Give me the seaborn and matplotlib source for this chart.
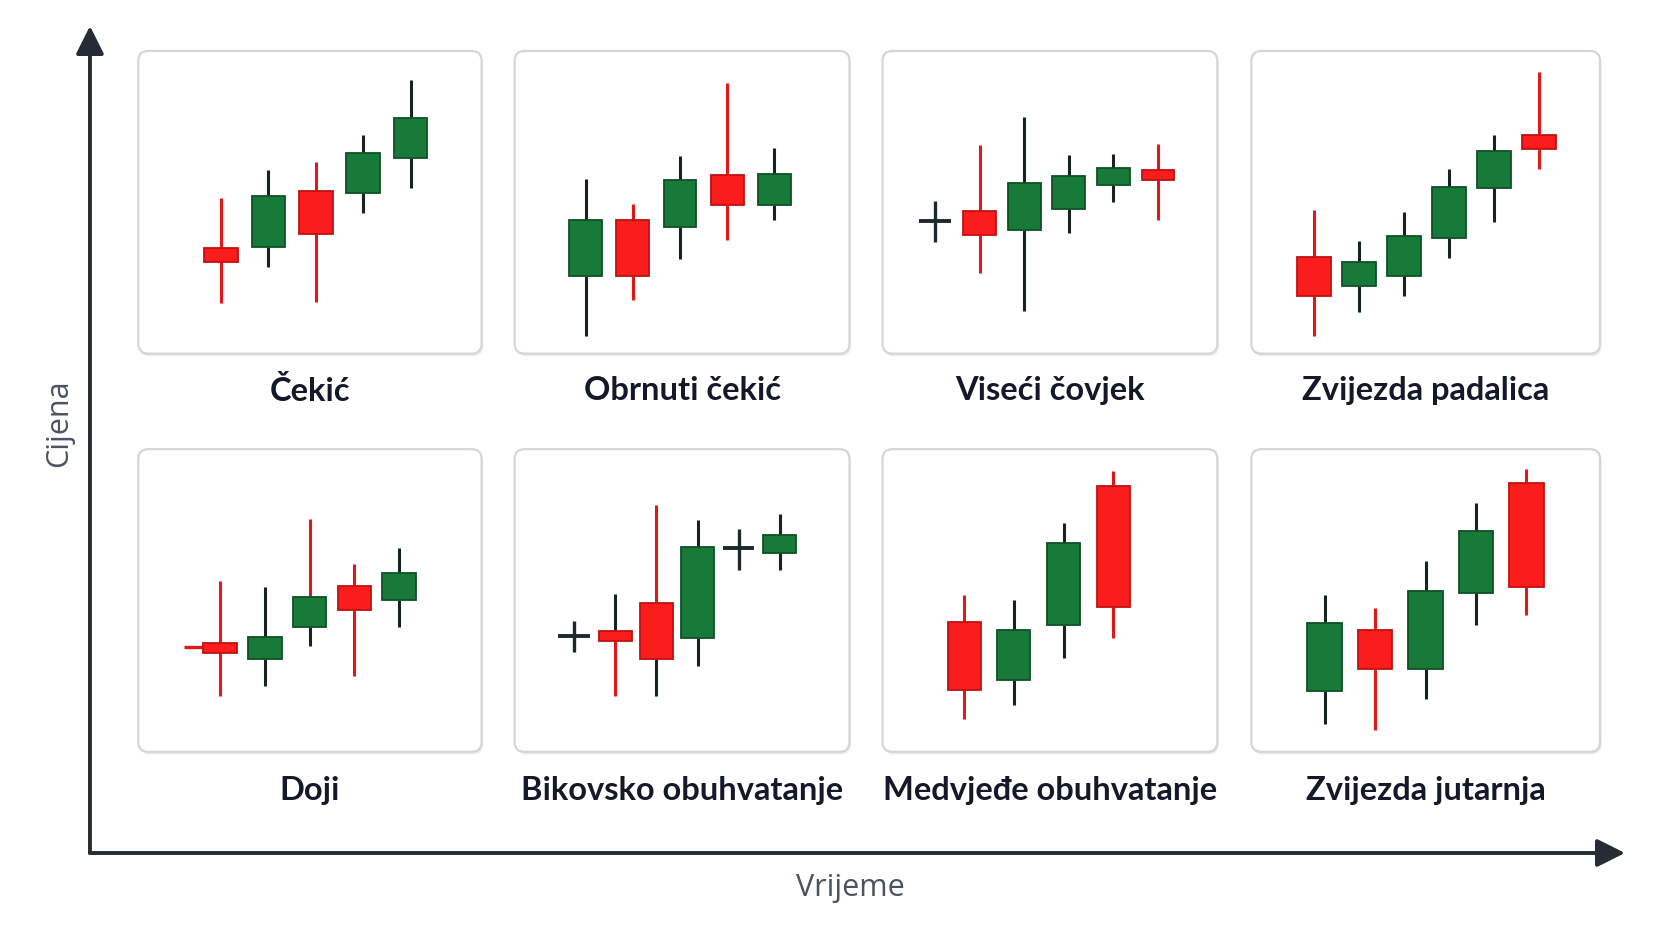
import numpy as np
import pandas as pd
import matplotlib
matplotlib.use("Agg")
import matplotlib.pyplot as plt
import seaborn as sns
from matplotlib.patches import FancyBboxPatch, FancyArrowPatch

# ---------------- data ----------------
titles = ["Čekić", "Obrnuti čekić", "Viseći čovjek", "Zvijezda padalica",
          "Doji", "Bikovsko obuhvatanje", "Medvjeđe obuhvatanje", "Zvijezda jutarnja"]

p1_open  = [35.0, 35.1, 53.8, 53.0, 64.6]
p1_high  = [51.4, 60.8, 63.3, 72.2, 90.4]
p1_low   = [16.8, 28.7, 16.9, 46.3, 54.7]
p1_close = [30.2, 52.2, 39.6, 66.3, 78.0]

p2_open  = [25.5, 44.0, 42.0, 59.1, 49.2]
p2_high  = [57.6, 49.6, 65.2, 89.3, 68.0]
p2_low   = [5.9, 17.7, 31.4, 37.6, 44.0]
p2_close = [44.0, 25.5, 57.3, 49.0, 59.4]

p3_open  = [43.9, 47.0, 41.0, 47.7, 55.8, 60.8]
p3_high  = [50.3, 68.9, 78.2, 65.5, 66.0, 69.1]
p3_low   = [37.0, 26.7, 14.0, 40.0, 50.1, 44.0]
p3_close = [43.9, 39.3, 56.4, 58.6, 61.3, 57.3]

p4_open  = [31.9, 22.4, 25.7, 38.2, 54.6, 72.4]
p4_high  = [47.3, 37.3, 46.9, 60.9, 72.2, 93.1]
p4_low   = [5.9, 13.6, 19.0, 31.7, 43.6, 61.1]
p4_close = [19.0, 30.3, 38.7, 55.2, 67.1, 67.6]

p5_open  = [36.1, 30.6, 41.2, 54.8, 50.1]
p5_high  = [56.5, 54.6, 76.8, 62.0, 67.2]
p5_low   = [18.6, 21.9, 34.9, 24.9, 41.3]
p5_close = [32.6, 38.0, 51.3, 46.9, 59.2]
p5_lead_price = 34.5

p6_open  = [38.3, 39.9, 49.3, 37.7, 67.4, 65.7]
p6_high  = [43.3, 52.3, 81.6, 76.5, 73.7, 78.7]
p6_low   = [32.9, 18.3, 18.6, 28.3, 60.0, 60.1]
p6_close = [38.3, 36.7, 30.7, 67.8, 67.4, 71.5]

p7_open  = [43.0, 23.7, 42.0, 87.7]
p7_high  = [51.8, 50.2, 75.7, 92.9]
p7_low   = [10.7, 15.4, 31.1, 37.7]
p7_close = [20.3, 40.4, 68.9, 48.0]

p8_open  = [20.0, 40.2, 27.2, 52.6, 88.8]
p8_high  = [51.8, 47.5, 62.9, 82.2, 93.4]
p8_low   = [9.3, 7.1, 17.3, 42.0, 45.2]
p8_close = [42.7, 27.2, 53.1, 72.9, 54.5]

panels = [
    (p1_open, p1_high, p1_low, p1_close),
    (p2_open, p2_high, p2_low, p2_close),
    (p3_open, p3_high, p3_low, p3_close),
    (p4_open, p4_high, p4_low, p4_close),
    (p5_open, p5_high, p5_low, p5_close),
    (p6_open, p6_high, p6_low, p6_close),
    (p7_open, p7_high, p7_low, p7_close),
    (p8_open, p8_high, p8_low, p8_close),
]

# ---------------- style ----------------
GREEN_FILL = "#177a38"
GREEN_EDGE = "#0d5226"
RED_FILL = "#fb1c1c"
RED_EDGE = "#c01010"
DARK_WICK = "#16241c"
RED_WICK = "#e3161a"
CROSS = "#1d2a2c"
AXIS_C = "#262c35"
TITLE_C = "#141929"
LABEL_C = "#4a5360"

# wick colour exceptions: (panel, candle, part)
wick_overrides = {(4, 2, "up"): RED_WICK, (5, 1, "up"): DARK_WICK, (5, 2, "down"): DARK_WICK}

# layout (figure fractions)
col_left = [0.0830, 0.3089, 0.5297, 0.7511]
col_width = [0.2061, 0.2010, 0.2010, 0.2093]
row_bottom = [0.6254, 0.2036]
row_height = 0.3206
title_y = [0.5860, 0.1631]
# first/last candle centre as fraction of panel width
x_span = [(0.241, 0.793), (0.212, 0.776), (0.157, 0.823), (0.179, 0.826),
          (0.238, 0.760), (0.178, 0.792), (0.244, 0.689), (0.210, 0.789)]
BODY_FRAC = 0.098

sns.set_theme(style="white")
plt.rcParams["font.family"] = ["Lato", "DejaVu Sans"]

W, H = 1666, 944
fig = plt.figure(figsize=(W / 100, H / 100), dpi=100)
fig.patch.set_facecolor("white")

for k, (o_, h_, l_, c_) in enumerate(panels):
    r, cidx = divmod(k, 4)
    left, bottom, width, height = col_left[cidx], row_bottom[r], col_width[cidx], row_height

    px = 1.0 / W
    py = 1.0 / H
    shadow = FancyBboxPatch((left + 1.5 * px, bottom - 2.5 * py), width, height,
                            boxstyle="round,pad=0,rounding_size=0.006",
                            transform=fig.transFigure, facecolor="#ececec",
                            edgecolor="none", zorder=-6, mutation_aspect=W / H)
    box = FancyBboxPatch((left, bottom), width, height,
                         boxstyle="round,pad=0,rounding_size=0.006",
                         transform=fig.transFigure, facecolor="white",
                         edgecolor="#d6d6d6", linewidth=1.6, zorder=-5,
                         mutation_aspect=W / H)
    fig.patches.extend([shadow, box])

    ax = fig.add_axes([left, bottom, width, height], zorder=1)
    ax.set_facecolor("none")
    for s in ax.spines.values():
        s.set_visible(False)
    ax.set_xticks([])
    ax.set_yticks([])

    df = pd.DataFrame({"open": o_, "high": h_, "low": l_, "close": c_})
    df["t"] = np.arange(len(df))
    n = len(df)
    f0, f1 = x_span[k]
    s = (f1 - f0) / (n - 1)
    ax.set_xlim(-f0 / s, (1 - f0) / s)
    ax.set_ylim(0, 100)
    bw = BODY_FRAC / s

    for i, row in df.iterrows():
        t, o, hi, lo, c = row["t"], row["open"], row["high"], row["low"], row["close"]
        top, bot = max(o, c), min(o, c)
        if abs(c - o) < 1e-9:
            ax.vlines(t, lo, hi, color=CROSS, linewidth=2.4, zorder=2)
            ax.hlines(o, t - bw * 0.48, t + bw * 0.48, color=CROSS, linewidth=2.8, zorder=2)
            continue
        bull = c > o
        fill = GREEN_FILL if bull else RED_FILL
        edge = GREEN_EDGE if bull else RED_EDGE
        wc = DARK_WICK if bull else RED_WICK
        up_c = wick_overrides.get((k, i, "up"), wc)
        dn_c = wick_overrides.get((k, i, "down"), wc)
        ax.vlines(t, top, hi, color=up_c, linewidth=2.2, zorder=2)
        ax.vlines(t, lo, bot, color=dn_c, linewidth=2.2, zorder=2)
        ax.bar(t, top - bot, bottom=bot, width=bw, color=fill, edgecolor=edge,
               linewidth=1.3, zorder=3)

    if k == 4:
        tl = -0.57
        ax.hlines(p5_lead_price, tl - bw * 0.3, tl + bw * 0.3, color=RED_WICK,
                  linewidth=2.4, zorder=2)

    fig.text(left + width / 2, title_y[r], titles[k], ha="center", va="center",
             fontsize=23.5, fontweight="bold", color=TITLE_C)

# axes arrows
ax_x = 0.054
ax_y = 0.0964
arr_style = "-|>,head_length=0.9,head_width=0.45"
fig.add_artist(FancyArrowPatch((ax_x, ax_y), (ax_x, 0.9725), transform=fig.transFigure,
                               arrowstyle=arr_style, mutation_scale=19, color=AXIS_C,
                               linewidth=2.8, shrinkA=0, shrinkB=0))
fig.add_artist(FancyArrowPatch((ax_x, ax_y), (0.9754, ax_y), transform=fig.transFigure,
                               arrowstyle=arr_style, mutation_scale=19, color=AXIS_C,
                               linewidth=2.8, shrinkA=0, shrinkB=0))

fig.text(0.0353, 0.552, "Cijena", rotation=90, ha="center", va="center",
         fontsize=22, color=LABEL_C, family=["Open Sans", "DejaVu Sans"])
fig.text(0.5105, 0.0588, "Vrijeme", ha="center", va="center",
         fontsize=22, color=LABEL_C, family=["Open Sans", "DejaVu Sans"])

fig.savefig("out.png", dpi=100, facecolor="white")
